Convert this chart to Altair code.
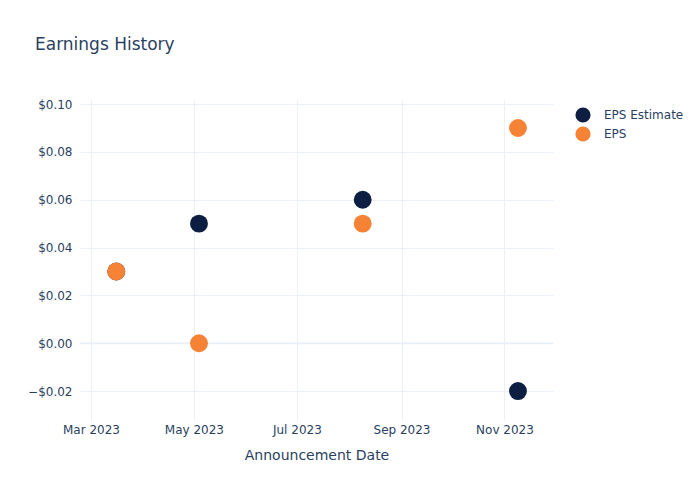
import altair as alt
import pandas as pd

dates = ["2023-03-16", "2023-05-04", "2023-08-09", "2023-11-09"]
eps_estimate = [0.03, 0.05, 0.06, -0.02]
eps_actual = [0.03, 0.00, 0.05, 0.09]
series_names = ["EPS Estimate", "EPS"]
series_colors = ["#0c1f43", "#f58235"]

rows = []
for d, v in zip(dates, eps_estimate):
    rows.append({"date": d, "value": v, "series": "EPS Estimate", "ord": 0})
for d, v in zip(dates, eps_actual):
    rows.append({"date": d, "value": v, "series": "EPS", "ord": 1})
df = pd.DataFrame(rows)
zero_df = pd.DataFrame({"value": [0.0]})

tick_dates = [alt.DateTime(year=2023, month=m, date=1) for m in [3, 5, 7, 9, 11]]

text_color = "#2a3f5f"
grid_color = "#ebf0f8"

y_scale = alt.Scale(domain=[-0.0321, 0.1017], nice=False, zero=False)

zero_line = alt.Chart(zero_df).mark_rule(color=grid_color, strokeWidth=2).encode(
    y=alt.Y("value:Q", scale=y_scale)
)

points = alt.Chart(df).mark_circle(size=320, opacity=1).encode(
    x=alt.X("date:T",
            scale=alt.Scale(domain=[alt.DateTime(year=2023, month=2, date=22, hours=12),
                                    alt.DateTime(year=2023, month=11, date=29, hours=18)]),
            axis=alt.Axis(values=tick_dates, format="%b %Y", title="Announcement Date",
                          labelPadding=4, titlePadding=13)),
    y=alt.Y("value:Q", scale=y_scale,
            axis=alt.Axis(values=[-0.02, 0, 0.02, 0.04, 0.06, 0.08, 0.10], format="$.2f",
                          title=None, labelPadding=8)),
    color=alt.Color("series:N",
                    scale=alt.Scale(domain=series_names, range=series_colors),
                    legend=alt.Legend(title=None, orient="none", legendX=495, legendY=7,
                                      symbolSize=230, symbolType="circle", labelFontSize=12,
                                      labelColor=text_color, rowPadding=3, labelOffset=13,
                                      symbolStrokeWidth=0)),
    order=alt.Order("ord:Q"),
)

chart = alt.layer(zero_line, points).properties(
    width=473,
    height=320,
    title=alt.TitleParams("Earnings History", anchor="start", fontSize=17, fontWeight="normal",
                          color=text_color, dx=-45, dy=-40, font="DejaVu Sans", frame="group"),
    autosize=alt.AutoSizeParams(type="none"),
    padding={"left": 80, "top": 100, "right": 147, "bottom": 80},
).configure_view(stroke=None).configure_axis(
    grid=True, gridColor=grid_color, gridWidth=1, domain=False, ticks=False,
    labelColor=text_color, labelFontSize=12, labelFont="DejaVu Sans",
    titleColor=text_color, titleFontSize=14, titleFont="DejaVu Sans", titleFontWeight="normal",
).configure_legend(labelFont="DejaVu Sans")

chart.save("out.html", embed_options={"renderer": "svg", "actions": False})
